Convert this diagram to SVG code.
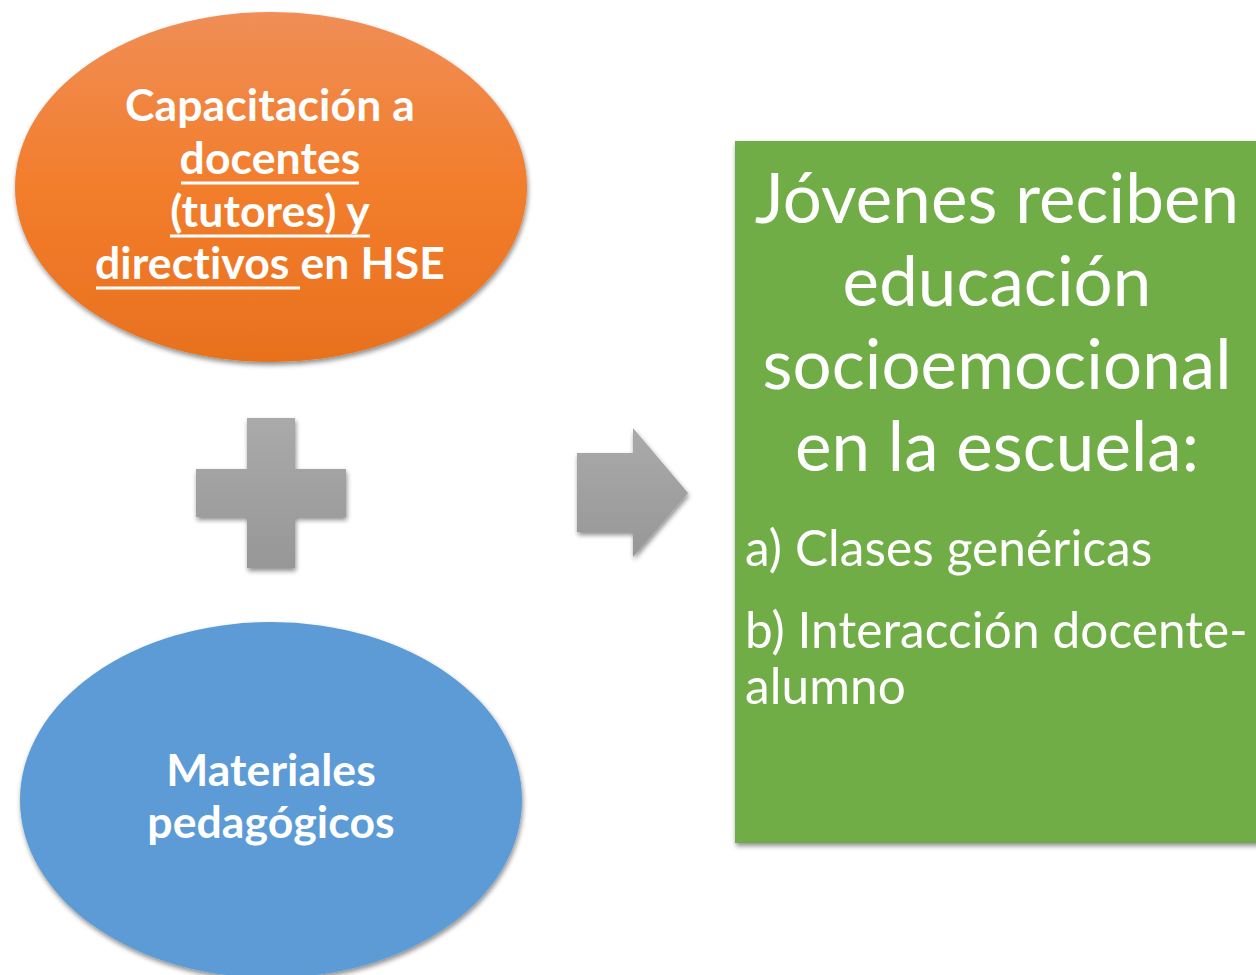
<svg xmlns="http://www.w3.org/2000/svg" width="1256" height="975" viewBox="0 0 1256 975">
<defs>
<linearGradient id="gOrange" x1="0" y1="0" x2="0" y2="1">
<stop offset="0" stop-color="#F08E56"/>
<stop offset="0.5" stop-color="#F27D2C"/>
<stop offset="1" stop-color="#E8711E"/>
</linearGradient>
<linearGradient id="gGrey" x1="0" y1="0" x2="0" y2="1">
<stop offset="0" stop-color="#AAAAAA"/>
<stop offset="1" stop-color="#979797"/>
</linearGradient>
<filter id="sh" x="-10%" y="-10%" width="125%" height="125%">
<feGaussianBlur in="SourceAlpha" stdDeviation="2.5"/>
<feOffset dx="1" dy="3" result="b"/>
<feComponentTransfer><feFuncA type="linear" slope="0.45"/></feComponentTransfer>
<feMerge><feMergeNode/><feMergeNode in="SourceGraphic"/></feMerge>
</filter>
</defs>
<style>
text{font-feature-settings:"liga" 0,"clig" 0;letter-spacing:0.1px}
.bold{font-family:"Lato","Open Sans","Liberation Sans",sans-serif;font-weight:bold;fill:#fff;font-size:44.5px;text-anchor:middle}
.reg{font-family:"Lato","Open Sans","Liberation Sans",sans-serif;fill:#fff}
.ul{stroke:#fff;stroke-width:3}
</style>
<rect width="1256" height="975" fill="#fff"/>
<g id="node-capacitacion">
<ellipse cx="271" cy="187" rx="256" ry="175" fill="url(#gOrange)" filter="url(#sh)"/>
<text class="bold"><tspan x="270" y="121">Capacitación a</tspan><tspan x="270" y="174">docentes</tspan><tspan x="270" y="227">(tutores) y</tspan><tspan x="270" y="279">directivos en HSE</tspan></text>
<path class="ul" d="M181 183H359M170 236H370M96 288H300"/>
</g>
<g id="node-materiales">
<ellipse cx="271" cy="800" rx="251" ry="178" fill="#5B9BD5" filter="url(#sh)"/>
<text class="bold"><tspan x="271" y="786">Materiales</tspan><tspan x="271" y="838">pedagógicos</tspan></text>
</g>
<g id="node-jovenes">
<rect x="735" y="141" width="530" height="702" fill="#70AD47" filter="url(#sh)"/>
<text class="reg" font-size="69" text-anchor="middle"><tspan x="997" y="223">Jóvenes reciben</tspan><tspan x="997" y="306">educación</tspan><tspan x="997" y="389">socioemocional</tspan><tspan x="997" y="471">en la escuela:</tspan></text>
<text class="reg" font-size="49.5"><tspan x="745" y="566">a) Clases genéricas</tspan><tspan x="745" y="648">b) Interacción docente-</tspan><tspan x="745" y="704">alumno</tspan></text>
</g>
<g id="connectors">
<path id="plus" d="M247 418H295V469H346V517H295V568H247V517H196V469H247Z" fill="url(#gGrey)" filter="url(#sh)"/>
<path id="arrow" d="M577 453H633V428L688 493L633 557V532H577Z" fill="url(#gGrey)" filter="url(#sh)"/>
</g>
</svg>
